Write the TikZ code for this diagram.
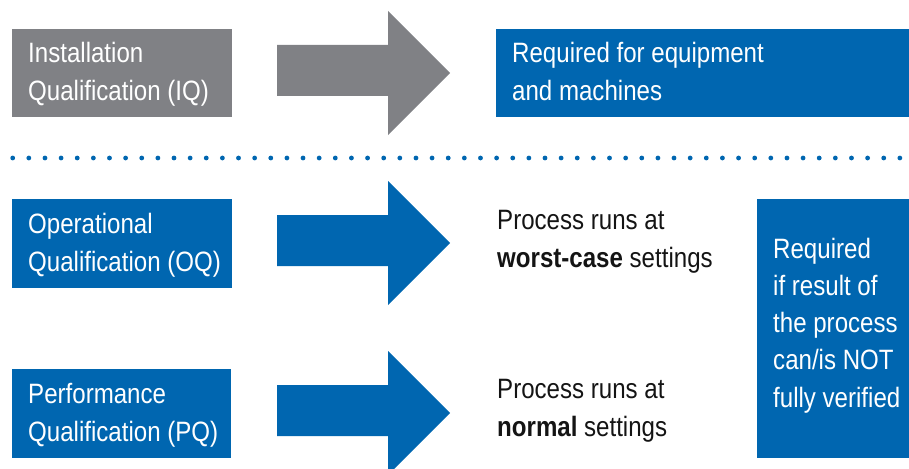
\documentclass[tikz,border=0pt]{standalone}
\usepackage{fontspec}
\setmainfont[FakeStretch=0.86]{Liberation Sans}
\definecolor{qgray}{RGB}{128,129,133}
\definecolor{qblue}{RGB}{0,102,176}
\definecolor{qtext}{RGB}{20,20,20}
\begin{document}
\begin{tikzpicture}[x=1pt,y=-1pt,
  boxnode/.style={anchor=north west, inner sep=0pt, outer sep=0pt},
  txt/.style={anchor=base west, inner sep=0pt, align=left, font=\fontsize{28}{37.2}\selectfont},
  bigarrow/.pic={\path[pic actions] (0,-28) -- (111,-28) -- (111,-62) -- (173,0) -- (111,62) -- (111,23) -- (0,23) -- cycle;}]
\useasboundingbox (0,0) rectangle (909,468);
% boxes
\node[boxnode, fill=qgray, minimum width=220pt, minimum height=88pt] (iqbox) at (12,29) {};
\node[boxnode, fill=qblue, minimum width=413pt, minimum height=88pt] (reqbox) at (496,29) {};
\node[boxnode, fill=qblue, minimum width=220pt, minimum height=89pt] (oqbox) at (12,199) {};
\node[boxnode, fill=qblue, minimum width=219pt, minimum height=89pt] (pqbox) at (12,369) {};
\node[boxnode, fill=qblue, minimum width=152pt, minimum height=259pt] (rbox) at (757,199) {};
% arrows
\pic[fill=qgray] (iqarrow) at (277,73) {bigarrow};
\pic[fill=qblue] (oqarrow) at (277,243) {bigarrow};
\pic[fill=qblue] (pqarrow) at (277,413) {bigarrow};
% dotted separator
\foreach \i in {0,...,55} \fill[qblue] (12.7+16.13*\i,158) circle (2.4pt);
% texts (anchored at the baseline of the last line)
\node[txt, text=white] (iqtext) at (28,100) {Installation\\Qualification (IQ)};
\node[txt, text=white] (reqtext) at (512,100) {Required for equipment\\and machines};
\node[txt, text=white] (oqtext) at (28,271) {Operational\\Qualification (OQ)};
\node[txt, text=white] (pqtext) at (28,441) {Performance\\Qualification (PQ)};
\node[txt, text=qtext] (wtext) at (497,267) {Process runs at\\\textbf{worst-case} settings};
\node[txt, text=qtext] (ntext) at (497,436) {Process runs at\\\textbf{normal} settings};
\node[txt, text=white] (rtext) at (773,407) {Required\\if result of\\the process\\can/is NOT\\fully verified};
\end{tikzpicture}
\end{document}
